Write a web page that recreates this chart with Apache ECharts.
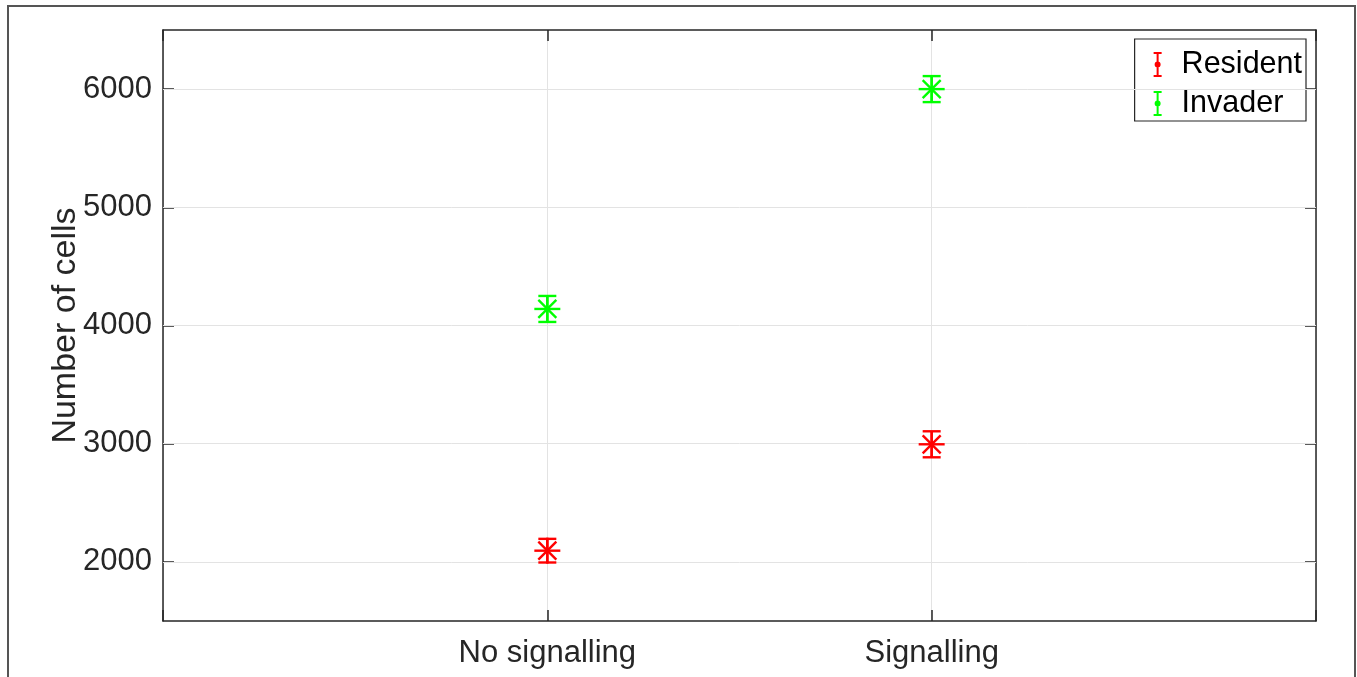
<!DOCTYPE html>
<html>
<head>
<meta charset="utf-8">
<script src="https://cdn.jsdelivr.net/npm/echarts@6/dist/echarts.min.js"></script>
<style>
html,body{margin:0;padding:0;background:#fff;}
#c{width:1357px;height:677px;}
</style>
</head>
<body>
<div id="c"></div>
<script>
var categories = ['No signalling', 'Signalling'];
var residentMean = [2095, 2995];
var residentErr = [100, 110];
var invaderMean = [4140, 6000];
var invaderErr = [110, 110];
var yTicks = [2000, 3000, 4000, 5000, 6000];

var FONT = 'Liberation Sans, Arial, sans-serif';
var AX = '#262626';

function buildData(means, errs) {
  return means.map(function (m, i) { return [i + 1, m, errs[i]]; });
}

function renderErr(params, api) {
  var x = api.value(0), y = api.value(1), e = api.value(2);
  var c = api.coord([x, y]);
  var top = api.coord([x, y + e]);
  var bot = api.coord([x, y - e]);
  var color = api.visual('color');
  var capW = 9, h = 13, d = 9;
  var style = { stroke: color, lineWidth: 2.4, fill: null };
  var lines = [
    [top[0], top[1], bot[0], bot[1]],
    [top[0] - capW, top[1], top[0] + capW, top[1]],
    [bot[0] - capW, bot[1], bot[0] + capW, bot[1]],
    [c[0] - h, c[1], c[0] + h, c[1]],
    [c[0] - d, c[1] - d, c[0] + d, c[1] + d],
    [c[0] - d, c[1] + d, c[0] + d, c[1] - d],
    [c[0], c[1] - h, c[0], c[1] + h]
  ];
  return {
    type: 'group',
    children: lines.map(function (l) {
      return { type: 'line', shape: { x1: l[0], y1: l[1], x2: l[2], y2: l[3] }, style: style };
    })
  };
}

var legendIcon = 'path://M0,0h8v2h-8z M3,2h2v21h-2z M0,23h8v2h-8z M1,12.5a3,3 0 1,1 6,0a3,3 0 1,1 -6,0z';

var yAxisBase = {
  type: 'value', min: 1500, max: 6500,
  axisLine: { show: true, onZero: false, lineStyle: { color: AX, width: 1.5 } },
  axisTick: { show: true, inside: true, length: 11, customValues: yTicks, lineStyle: { color: AX, width: 1.5 } },
  splitLine: { show: false }
};

var option = {
  backgroundColor: '#fff',
  animation: false,
  graphic: [{
    type: 'rect', z: -10, silent: true,
    shape: { x: 8, y: 6, width: 1347, height: 720 },
    style: { fill: null, stroke: '#555', lineWidth: 2 }
  }],
  grid: { left: 163, top: 30, right: 41, bottom: 56, containLabel: false },
  legend: {
    right: 51, top: 39,
    orient: 'vertical',
    backgroundColor: '#fff',
    borderColor: AX, borderWidth: 1.2,
    padding: [10, 4, 2, 19],
    itemGap: 8,
    itemWidth: 8, itemHeight: 25,
    textStyle: { fontFamily: FONT, fontSize: 30.5, color: '#000', padding: [0, 0, 0, 15] },
    data: [
      { name: 'Resident', icon: legendIcon, itemStyle: { color: '#ff0000' } },
      { name: 'Invader', icon: legendIcon, itemStyle: { color: '#00ff00' } }
    ]
  },
  xAxis: [{
    type: 'value', min: 0, max: 3, interval: 1, position: 'bottom',
    axisLine: { show: true, onZero: false, lineStyle: { color: AX, width: 1.5 } },
    axisTick: { show: true, inside: true, length: 11, lineStyle: { color: AX, width: 1.5 } },
    splitLine: { show: true, lineStyle: { color: '#e3e3e3', width: 1 } },
    axisLabel: {
      margin: 17, fontFamily: FONT, fontSize: 31, color: '#262626',
      formatter: function (v) { return categories[v - 1] || ''; }
    }
  }, {
    type: 'value', min: 0, max: 3, interval: 1, position: 'top',
    axisLine: { show: true, onZero: false, lineStyle: { color: AX, width: 1.5 } },
    axisTick: { show: true, inside: true, length: 11, lineStyle: { color: AX, width: 1.5 } },
    splitLine: { show: false }, axisLabel: { show: false }
  }],
  yAxis: [
    Object.assign({}, yAxisBase, {
      position: 'left',
      name: 'Number of cells', nameLocation: 'middle', nameGap: 80, nameMoveOverlap: false,
      nameTextStyle: { fontFamily: FONT, fontSize: 34, color: '#262626' },
      axisLabel: {
        margin: 11, customValues: yTicks, fontFamily: FONT, fontSize: 31, color: '#262626',
        formatter: function (v) { return String(v); }
      }
    }),
    Object.assign({}, yAxisBase, { position: 'right', axisLabel: { show: false } })
  ],
  series: [
    {
      type: 'line', name: '_grid', data: [], silent: true, z: 1,
      markLine: {
        silent: true, symbol: 'none', animation: false,
        label: { show: false },
        lineStyle: { color: '#e3e3e3', width: 1, type: 'solid' },
        data: yTicks.map(function (v) { return { yAxis: v }; })
      }
    },
    {
      type: 'custom', name: 'Resident', renderItem: renderErr, clip: false, z: 5,
      itemStyle: { color: '#ff0000' },
      encode: { x: 0, y: 1 },
      data: buildData(residentMean, residentErr)
    },
    {
      type: 'custom', name: 'Invader', renderItem: renderErr, clip: false, z: 5,
      itemStyle: { color: '#00ff00' },
      encode: { x: 0, y: 1 },
      data: buildData(invaderMean, invaderErr)
    }
  ]
};

var chart = echarts.init(document.getElementById('c'), null, { renderer: 'canvas' });
chart.setOption(option);
</script>
</body>
</html>
